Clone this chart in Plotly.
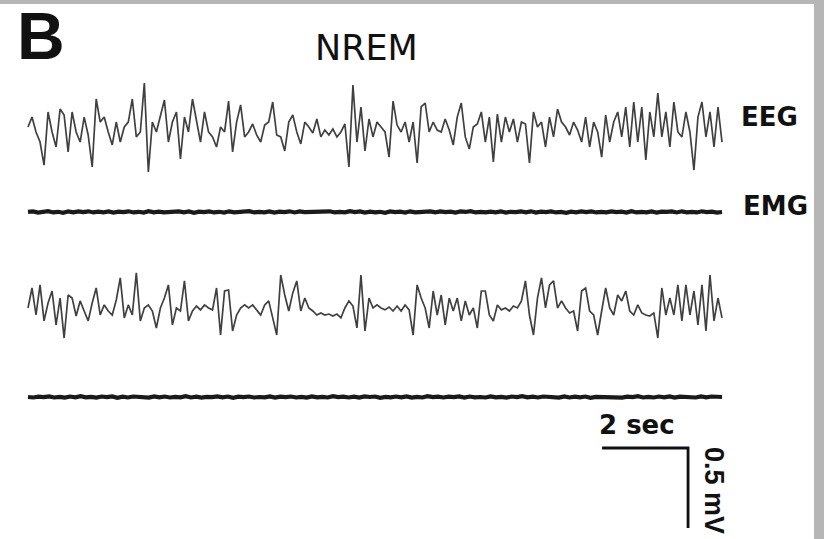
import numpy as np
import plotly.graph_objects as go

# ---- recording data (microvolts, evenly sampled over the epoch) ----
EPOCH_SEC = 16.14

eeg_1_uv = [0, 62, -31, -94, -238, 94, -31, -125, 112, 75, -156, 94, -31, -94, 62, -50, -250, 175, 31, 62,
            -31, -112, 31, -94, 0, 31, 175, -62, -31, 275, -281, 31, -31, 62, 169, -94, 31, 94, -200, 62,
            -31, 175, 31, -94, 94, -31, -62, -125, 0, -31, 162, -156, 31, 138, -62, -31, 19, -50, -94, 12,
            31, 156, -50, -62, -150, 31, 75, -31, -106, 31, 0, -38, 50, -62, -19, -50, -12, -62, -31, 19,
            -250, 262, -94, 125, -150, 50, -62, 31, 0, -31, -188, 162, 12, -31, 31, -94, 31, -225, 125, 150,
            -31, 31, -19, -31, 50, -19, -112, 62, 150, -62, -138, 0, 19, 94, -94, 62, -219, 81, -94, 62,
            -31, 50, -94, 31, 19, -225, 94, 0, 31, -125, 62, -62, 112, 31, 0, -50, 31, -19, -94, 62,
            -125, 31, -31, -188, 75, -94, 31, 94, -62, 125, -125, 156, -94, 125, -206, 94, -62, 212, -62, 94,
            -125, 156, -31, -62, 94, -31, -269, 62, 156, -62, 94, -125, 125, -94]

emg_1_uv = [0, 3, -4, 2, 5, -3, 1, -5, 4, -2, 3, -1, 4, -3, 2, -2, 3, -4, 2, -1, 4, -3, 1, -4, 5,
            -2, 2, -3, 1, -1, 4, -2, 3, -5, 2, -1, 3, -3, 1, -4, 4, -2, 2, 0, 5, -3, 1, -2, 3, -4,
            2, -1, 4, -3, 3, -1, 0, -4, 2, -2, 4, -3, 1, -2, 5, -1, 3, -4, 2, -3, 1, -5, 3, -1, 2,
            -4, 4, -2, 0, -3, 4, -2, 3, -1, 2, -4, 3, 0, 5, -3, 1, -3, 2, -2, 4, -4, 1, -1, 3, -2,
            4, -4, 2, -1, 3, -3, 0, -5, 2, -2, 4, -1, 3, -3, 1, -2, 4, -1, 2, -4, 5, -3, 1, -2, 3,
            -4, 2, 0, 3, -3, 4, -2, 1, -3, 4, -1, 2, -4, 0]

eeg_2_uv = [0, 125, -44, 144, -81, 31, 106, -106, 62, -188, 81, 62, -50, 44, -19, -81, 31, 125, -44, 19,
            -19, -44, 50, 188, -62, 19, -44, 219, -81, 0, 19, -19, -125, 0, 62, 144, -106, 0, -19, 169,
            -81, -19, 12, -12, 19, 0, -12, 125, -169, 106, 112, -144, -44, 0, 19, 0, 19, -12, -44, 19,
            44, -62, -169, 206, 81, -19, 94, 169, -19, 62, 0, -19, -44, -31, -44, -38, -50, -38, -62, 0,
            44, 12, -125, 206, -144, 62, 0, 19, 0, -12, 6, -19, 12, -19, 19, -12, -169, 144, 62, 0,
            -125, 106, -44, 81, -106, 62, -19, 62, -81, 44, -44, 0, -125, 106, 106, -44, -81, 19, -12, 0,
            -19, 12, 0, 44, 169, -44, -169, 62, 188, 0, 144, 169, 0, 44, 0, -31, -19, -144, 106, 125,
            -19, -44, -169, -19, 125, 0, -44, 81, 44, 106, -19, -44, 19, -31, -44, -50, -31, -188, 125, -44,
            62, -44, 144, -81, 144, -44, 106, -106, 144, -144, 206, -81, 62, -62]

emg_2_uv = [0, -3, 2, -1, 4, -3, 1, -4, 3, -2, 5, -2, 1, -4, 3, -1, 4, -5, 2, -3, 3, -1, 0, -4, 4,
            -2, 3, -3, 1, -2, 5, -3, 2, -4, 1, -1, 4, -2, 3, -5, 2, -1, 3, -3, 0, -2, 4, -4, 2, -1,
            3, -3, 1, -4, 4, -2, 1, -3, 5, -1, 2, -3, 2, -4, 4, 0, 3, -5, 1, -2, 3, -2, 4, -4, 1,
            -3, 5, -1, 2, -3, 2, -1, 4, -4, 3, -2, 0, -3, 4, -2, 1, -4, 3, -1, 5, -2, 2, -3, 3, -1,
            1, -4, 4, -3, 2, -2, 3, -5, 1, 0, 4, -2, 3, -4, 2, -1, 5, -3, 1, -3, 3, -2, 4, -4, 2,
            -1, 1, -3, 4, -2, 3, -1, 0]

channel_names = ["EEG", "EMG", "EEG", "EMG"]
channel_offsets_mv = [2.575, 2.044, 1.444, 0.8875]   # vertical stacking of the traces

SCALE_SEC = 2.0
SCALE_MV = 0.5

# ---- canvas geometry ----
W, H = 824, 539
PX_PER_SEC = 43.0
PX_PER_MV = 160.0
X0_PX = 28.0


def px_to_paper(px, py):
    return px / W, 1 - py / H


fig = go.Figure()

traces = [eeg_1_uv, emg_1_uv, eeg_2_uv, emg_2_uv]
for name, data, off in zip(channel_names, traces, channel_offsets_mv):
    v = np.asarray(data, dtype=float) / 1000.0
    t = np.linspace(0, EPOCH_SEC, len(v))
    if name == "EEG":
        line = dict(color="#404040", width=1.7)
    else:
        line = dict(color="#1a1a1a", width=4.2)
    fig.add_trace(go.Scatter(x=t, y=v + off, mode="lines", line=line,
                             hoverinfo="skip", showlegend=False))

# calibration bar: 2 sec horizontal, 0.5 mV vertical
bar_t_end = 15.35
bar_v_top = 0.56875
fig.add_trace(go.Scatter(
    x=[bar_t_end - SCALE_SEC, bar_t_end, bar_t_end],
    y=[bar_v_top, bar_v_top, bar_v_top - SCALE_MV],
    mode="lines", line=dict(color="#111111", width=2.8),
    hoverinfo="skip", showlegend=False))

x_lo = -X0_PX / PX_PER_SEC
x_hi = (W - X0_PX) / PX_PER_SEC
y_hi = H / PX_PER_MV

annotations = []


def label(text, px, py, size, bold=True, angle=0, family="Liberation Sans, Arial, sans-serif"):
    xp, yp = px_to_paper(px, py)
    annotations.append(dict(
        text=f"<b>{text}</b>" if bold else text,
        x=xp, y=yp, xref="paper", yref="paper",
        xanchor="center", yanchor="middle", showarrow=False,
        textangle=angle,
        font=dict(family=family, size=size, color="#111111")))


label("B", 41, 36, 66)
label("NREM", 366, 48, 35, bold=False, family="DejaVu Sans, sans-serif")
label("EEG", 769, 117, 26, family="DejaVu Sans, sans-serif")
label("EMG", 775, 206, 26, family="DejaVu Sans, sans-serif")
label("2 sec", 637, 425, 26, family="DejaVu Sans, sans-serif")
label("0.5 mV", 714, 490, 27, angle=90)

# grey frame strips at the top and right edges
shapes = [
    dict(type="rect", xref="paper", yref="paper", x0=0, x1=1, y0=1 - 4 / H, y1=1,
         fillcolor="#b6b6b6", line=dict(width=0), layer="above"),
    dict(type="rect", xref="paper", yref="paper", x0=814 / W, x1=1, y0=0, y1=1,
         fillcolor="#b6b6b6", line=dict(width=0), layer="above"),
]

fig.update_layout(
    width=W, height=H,
    margin=dict(l=0, r=0, t=0, b=0),
    paper_bgcolor="white", plot_bgcolor="white",
    xaxis=dict(range=[x_lo, x_hi], visible=False, fixedrange=True),
    yaxis=dict(range=[0, y_hi], visible=False, fixedrange=True),
    annotations=annotations,
    shapes=shapes,
)

fig.write_html("out.html")
